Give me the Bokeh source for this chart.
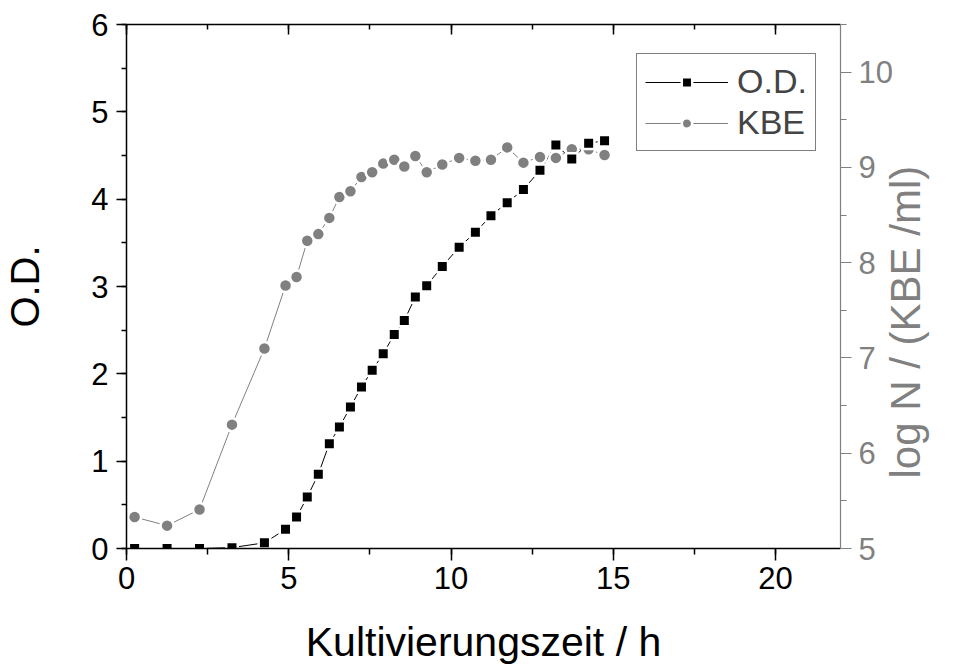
import math
from bokeh.plotting import figure
from bokeh.models import (Range1d, LinearAxis, SingleIntervalTicker, Legend, LegendItem,
                          CustomJSTickFormatter)
from bokeh.embed import file_html
from bokeh.resources import INLINE

# ---- data ----
time_h = [0.25, 1.25, 2.25, 3.25, 4.25, 4.9, 5.24, 5.57, 5.91, 6.25, 6.56, 6.9, 7.24, 7.57, 7.91,
          8.25, 8.56, 8.9, 9.25, 9.73, 10.25, 10.75, 11.23, 11.73, 12.23, 12.74, 13.23, 13.72, 14.24, 14.73]
od = [0.0, 0.0, 0.0, 0.01, 0.065, 0.22, 0.36, 0.59, 0.85, 1.2, 1.39, 1.62, 1.85, 2.04, 2.23,
      2.45, 2.61, 2.88, 3.01, 3.23, 3.45, 3.62, 3.81, 3.96, 4.11, 4.33, 4.62, 4.46, 4.64, 4.67]
kbe = [5.33, 5.24, 5.41, 6.30, 7.10, 7.76, 7.85, 8.23, 8.30, 8.47, 8.69, 8.75, 8.90, 8.95, 9.04,
       9.08, 9.01, 9.12, 8.95, 9.03, 9.10, 9.07, 9.08, 9.21, 9.05, 9.11, 9.10, 9.19, 9.19, 9.13]

x_title = "Kultivierungszeit / h"
y_title = "O.D."
y2_title = "log N / (KBE /ml)"
series_names = ["O.D.", "KBE"]

FONT = "Liberation Sans"
GRAY = "#808080"

p = figure(width=955, height=667, output_backend="svg", toolbar_location=None,
           x_range=Range1d(0, 22), y_range=Range1d(0, 6),
           min_border_left=126, min_border_right=115, min_border_top=24, min_border_bottom=118)
p.extra_y_ranges = {"kbe": Range1d(5, 10.5)}
p.outline_line_color = None
p.grid.visible = False
p.background_fill_color = "white"
p.border_fill_color = "white"

# bottom axis
xa = p.xaxis[0]
xa.ticker = SingleIntervalTicker(interval=5, num_minor_ticks=2)
xa.axis_label = x_title
xa.axis_label_text_font = FONT
xa.axis_label_text_font_size = "41px"
xa.axis_label_text_font_style = "normal"
xa.axis_label_text_color = "black"
xa.axis_label_standoff = 27
xa.major_label_text_font = FONT
xa.major_label_text_font_size = "31px"
xa.major_label_text_color = "black"
xa.major_label_standoff = 6
xa.major_tick_in = 0
xa.major_tick_out = 12
xa.minor_tick_in = 0
xa.minor_tick_out = 6
xa.axis_line_width = 1.5
xa.major_tick_line_width = 1.5
xa.minor_tick_line_width = 1.5

# left axis
ya = p.yaxis[0]
ya.ticker = SingleIntervalTicker(interval=1, num_minor_ticks=2)
ya.axis_label = y_title
ya.axis_label_text_font = FONT
ya.axis_label_text_font_size = "40px"
ya.axis_label_text_font_style = "normal"
ya.axis_label_text_color = "black"
ya.axis_label_standoff = 41
ya.major_label_text_font = FONT
ya.major_label_text_font_size = "31px"
ya.major_label_text_color = "black"
ya.major_label_standoff = 8
ya.major_tick_in = 0
ya.major_tick_out = 10
ya.minor_tick_in = 0
ya.minor_tick_out = 5
ya.axis_line_width = 1.5
ya.major_tick_line_width = 1.5
ya.minor_tick_line_width = 1.5

# top mirror axis (ticks only, pointing inward)
top = LinearAxis(ticker=SingleIntervalTicker(interval=5, num_minor_ticks=2),
                 formatter=CustomJSTickFormatter(code="return ''"),
                 major_tick_in=10, major_tick_out=0, minor_tick_in=5, minor_tick_out=0,
                 axis_line_width=1.5, major_tick_line_width=1.5, minor_tick_line_width=1.5,
                 major_label_standoff=0)
p.add_layout(top, "above")

# right axis (KBE); title reads bottom-to-top, starting a little above the axis start
ra = LinearAxis(y_range_name="kbe", ticker=SingleIntervalTicker(interval=1, num_minor_ticks=2),
                axis_line_color=GRAY, major_tick_line_color=GRAY, minor_tick_line_color=GRAY,
                major_label_text_color=GRAY, major_label_text_font=FONT,
                major_label_text_font_size="31px", major_label_standoff=7,
                major_tick_in=0, major_tick_out=11, minor_tick_in=0, minor_tick_out=6,
                axis_line_width=1.2, major_tick_line_width=1.2, minor_tick_line_width=1.2,
                axis_label_text_font=FONT, axis_label_text_font_size="42px",
                axis_label_text_font_style="normal", axis_label_text_color=GRAY,
                axis_label_standoff=10)
props = LinearAxis.properties()
if "axis_label_orientation" in props and "axis_label_align" in props:
    ra.axis_label = "\u00a0" * 6 + y2_title
    ra.axis_label_orientation = math.pi / 2
    ra.axis_label_align = "start"
else:
    ra.axis_label = y2_title
p.add_layout(ra, "right")

# data
od_line = p.line(time_h, od, line_color="black", line_width=1)
kbe_line = p.line(time_h, kbe, y_range_name="kbe", line_color=GRAY, line_width=1)
kbe_pts = p.scatter(time_h, kbe, y_range_name="kbe", marker="circle", size=13,
                    fill_color=GRAY, line_color="white", line_width=2.5)
od_pts = p.scatter(time_h, od, marker="square", size=11.5, fill_color="black",
                   line_color="white", line_width=2.5)

legend = Legend(items=[LegendItem(label=series_names[0], renderers=[od_line, od_pts]),
                       LegendItem(label=series_names[1], renderers=[kbe_line, kbe_pts])],
                location=(510, 397), border_line_color="black", border_line_width=1,
                glyph_width=83, glyph_height=26, label_standoff=9, padding=8, spacing=2,
                label_text_font=FONT, label_text_font_size="34px", margin=0,
                background_fill_color="white", background_fill_alpha=1)
p.add_layout(legend, "center")

open("out.html", "w").write(file_html(p, INLINE))
